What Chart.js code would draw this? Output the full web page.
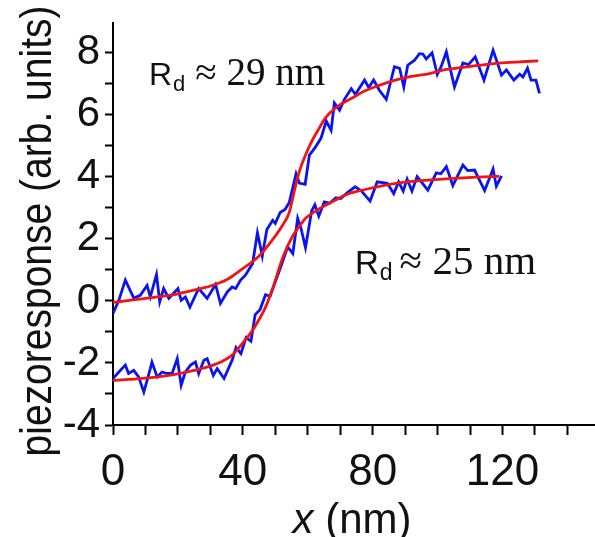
<!DOCTYPE html>
<html>
<head>
<meta charset="utf-8">
<script src="https://cdn.jsdelivr.net/npm/chart.js@4.4.1/dist/chart.umd.min.js"></script>
<style>
  html, body { margin: 0; padding: 0; background: #fff; }
  #wrap { width: 595px; height: 537px; }
</style>
</head>
<body>
<div id="wrap"><canvas id="chart" width="595" height="537"></canvas></div>
<script>
// measured profile, R_d ~ 29 nm (upper curve)
const upperX = [0, 1.8, 3.8, 6.4, 8.4, 10.5, 11.5, 13.4, 14.4, 15.6, 17.2, 20, 21, 22.3, 23.7, 26.4, 29, 31.6, 33.1, 35.2,
  36.7, 37.8, 39.3, 40.8, 42.4, 43, 44.5, 46, 47.4, 49.2, 50, 51.5, 53, 54.3, 56.4, 57.4, 59.2, 60.5, 62.3, 64.1,
  65.7, 67.2, 68.2, 69.8, 71.3, 73.4, 74.7, 77.5, 78.8, 80.3, 82, 84.2, 86.7, 88.3, 89.6, 90.8, 92.9, 94.4, 95.5, 96.5,
  98.3, 99.9, 101.1, 102.7, 105.2, 107.8, 109.5, 111.6, 114.3, 117.1, 119.7, 121.2, 123.5, 125.3, 126.3, 127.7, 128.8, 130.3, 131.4];
const upperY = [-0.4, 0.02, 0.67, 0.09, 0.18, 0.5, 0.13, 0.85, -0.03, 0.4, 0.08, 0.4, 0.02, 0.13, -0.2, 0.4, 0.08, 0.53, -0.08, 0.29,
  0.45, 0.4, 0.67, 0.83, 1.1, 1.2, 2.2, 1.45, 2.3, 2.6, 2.5, 2.85, 2.95, 3.17, 4.1, 3.8, 3.76, 4.7, 4.95, 5.25,
  5.8, 5.5, 6.38, 6.15, 6.5, 6.84, 6.66, 7.12, 6.88, 7.12, 6.8, 6.5, 7.55, 7.5, 6.9, 7.6, 7.76, 7.97, 7.96, 7.8,
  8.0, 7.3, 7.55, 8.03, 6.9, 7.67, 7.62, 7.87, 7.12, 8.08, 7.28, 7.45, 7.12, 7.31, 7.22, 7.5, 7.12, 7.12, 6.69];

// measured profile, R_d ~ 25 nm (lower curve)
const lowerX = [0, 1.8, 3.8, 4.8, 6.4, 7.9, 9.5, 11.5, 12, 13.6, 15.1, 16.7, 18.2, 19.8, 21, 22.3, 23.9, 25.4, 26.4, 28,
  29, 30.9, 32.1, 34.2, 36.7, 37.9, 39.4, 41, 42.5, 43.8, 45.3, 47, 48.4, 50.2, 51.7, 53.8, 55.4, 56.9, 57.9, 59.3,
  61.2, 62.2, 63.4, 65.1, 66.7, 68.7, 70.2, 72.3, 74.6, 76.5, 79.2, 81.4, 84.5, 86.5, 88, 89.4, 90.6, 92.1, 93.7, 95.3,
  97, 99.6, 101, 102.7, 104.7, 107.8, 109.3, 111.4, 114.5, 117.1, 118.1, 119.7];
const lowerY = [-2.5, -2.29, -2.07, -2.34, -2.24, -2.45, -2.94, -2.18, -1.97, -2.45, -2.29, -2.34, -2.34, -1.86, -2.72, -2.29, -2.07, -1.97, -2.34, -1.91,
  -1.86, -2.4, -2.18, -2.5, -1.91, -1.5, -1.7, -1.18, -1.3, -0.44, -0.28, 0.2, 0.15, 0.67, 1.1, 1.74, 1.53, 2.66, 2.35, 1.72,
  2.9, 3.1, 2.73, 3.19, 3.15, 3.33, 3.3, 3.5, 3.68, 3.55, 3.22, 3.84, 3.79, 3.46, 3.84, 3.54, 3.93, 3.54, 4.01, 3.8,
  3.57, 4.13, 4.1, 4.33, 3.72, 4.38, 4.2, 4.22, 3.56, 4.25, 3.7, 4.03];

// fitted curves
const upperFitX = [0, 5, 10, 15, 20, 25, 30, 35, 39, 45, 49, 52, 54.3, 56, 57.5, 59.5, 61.5, 63.6, 65, 66.7,
  70, 74, 77, 82, 87, 92, 97.5, 102, 107.8, 113, 118, 124, 131];
const upperFitY = [-0.05, 0.02, 0.08, 0.15, 0.23, 0.35, 0.48, 0.68, 0.97, 1.45, 1.95, 2.4, 2.85, 3.6, 4.2, 4.75, 5.2, 5.58, 5.83, 6.05,
  6.33, 6.56, 6.74, 6.95, 7.12, 7.24, 7.33, 7.45, 7.53, 7.6, 7.66, 7.7, 7.74];
const lowerFitX = [0, 5, 10, 15, 20, 25, 30, 34, 37, 40, 43, 45, 47, 49.5, 52.3, 55.4, 57.5, 59.5, 63.6, 68,
  72.5, 78, 84, 90, 98, 105, 112, 119];
const lowerFitY = [-2.56, -2.53, -2.49, -2.43, -2.35, -2.24, -2.1, -1.93, -1.72, -1.35, -0.95, -0.6, -0.2, 0.5, 1.4, 2.1, 2.42, 2.68, 2.97, 3.22,
  3.45, 3.6, 3.73, 3.83, 3.9, 3.95, 3.99, 4.02];

const xTicksLabeled = [0, 40, 80, 120];
const yTicksLabeled = [-4, -2, 0, 2, 4, 6, 8];

const BLUE = '#0a14f0';
const RED = '#f01414';
const SANS = '"Liberation Sans", Arial, sans-serif';
const SERIF = '"Liberation Serif", "Times New Roman", serif';

function pts(xs, ys) { return xs.map((x, i) => ({ x: x, y: ys[i] })); }

// axis titles and the two R_d notes
const textPlugin = {
  id: 'texts',
  afterDraw(chart) {
    const ctx = chart.ctx;
    ctx.save();
    ctx.fillStyle = '#111';
    ctx.textBaseline = 'alphabetic';

    // y title
    ctx.save();
    ctx.translate(51, 231);
    ctx.rotate(-Math.PI / 2);
    ctx.scale(1, 1.15);
    ctx.font = '39px ' + SANS;
    ctx.textAlign = 'center';
    ctx.fillText('piezoresponse (arb. units)', 0, 0);
    ctx.restore();

    // x title: italic x + (nm)
    ctx.textAlign = 'left';
    ctx.font = 'italic 42px ' + SANS;
    const a = 'x', b = ' (nm)';
    const wa = ctx.measureText(a).width;
    ctx.font = '42px ' + SANS;
    const wb = ctx.measureText(b).width;
    let x0 = 352 - (wa + wb) / 2;
    ctx.font = 'italic 42px ' + SANS;
    ctx.fillText(a, x0, 533);
    ctx.font = '42px ' + SANS;
    ctx.fillText(b, x0 + wa, 533);

    // R_d notes
    function note(x, y, rSize, dSize, tSize, gap, num) {
      ctx.font = rSize + 'px ' + SANS;
      ctx.fillText('R', x, y);
      const wr = ctx.measureText('R').width;
      ctx.font = dSize + 'px ' + SANS;
      ctx.fillText('d', x + wr + 1, y + 6);
      const wd = ctx.measureText('d').width;
      ctx.font = tSize + 'px ' + SERIF;
      ctx.fillText('\u2248 ' + num + ' nm', x + wr + wd + gap, y);
    }
    note(149, 85, 32, 22, 39, 11, 29);
    note(355, 274, 33, 23, 41, 8, 25);
    ctx.restore();
  }
};

new Chart(document.getElementById('chart'), {
  type: 'line',
  data: {
    datasets: [
      { data: pts(upperFitX, upperFitY), borderColor: RED, borderWidth: 2.8, cubicInterpolationMode: 'monotone' },
      { data: pts(lowerFitX, lowerFitY), borderColor: RED, borderWidth: 2.8, cubicInterpolationMode: 'monotone' },
      { data: pts(upperX, upperY), borderColor: BLUE, borderWidth: 2.8, tension: 0 },
      { data: pts(lowerX, lowerY), borderColor: BLUE, borderWidth: 2.8, tension: 0 }
    ]
  },
  options: {
    responsive: false,
    devicePixelRatio: 1,
    animation: false,
    events: [],
    elements: { point: { radius: 0 }, line: { fill: false } },
    layout: { padding: { top: 23, right: 0, left: 0, bottom: 0 } },
    plugins: { legend: { display: false }, tooltip: { enabled: false } },
    scales: {
      x: {
        type: 'linear',
        min: 0,
        max: 148.5,
        border: { display: true, color: '#000', width: 2 },
        grid: { drawOnChartArea: false, tickLength: 10, tickColor: '#000', tickWidth: 2 },
        ticks: {
          stepSize: 10,
          includeBounds: false,
          autoSkip: false,
          maxRotation: 0,
          padding: 11,
          color: '#111',
          font: { family: SANS, size: 44 },
          callback: v => xTicksLabeled.includes(v) ? String(v) : ''
        },
        afterFit(scale) { scale.height = 112; scale.paddingLeft = 0; scale.paddingRight = 0; }
      },
      y: {
        type: 'linear',
        min: -4,
        max: 8.96,
        border: { display: true, color: '#000', width: 2 },
        grid: { drawOnChartArea: false, tickLength: 8, tickColor: '#000', tickWidth: 2 },
        ticks: {
          stepSize: 1,
          includeBounds: false,
          autoSkip: false,
          padding: 5,
          color: '#111',
          font: { family: SANS, size: 42 },
          callback: v => yTicksLabeled.includes(v) ? String(v) : ''
        },
        afterFit(scale) { scale.width = 113; scale.paddingTop = 0; scale.paddingBottom = 0; }
      }
    }
  },
  plugins: [textPlugin]
});
</script>
</body>
</html>
